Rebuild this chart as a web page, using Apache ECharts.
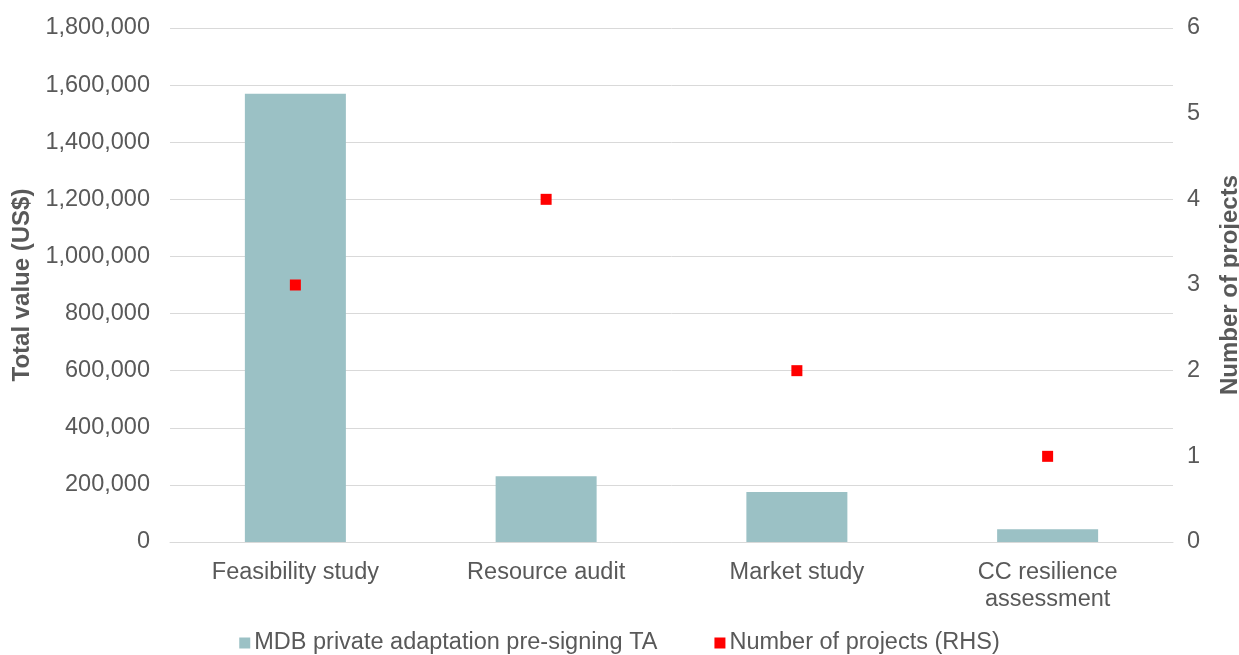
<!DOCTYPE html>
<html><head><meta charset="utf-8">
<script src="https://cdn.jsdelivr.net/npm/echarts@6/dist/echarts.min.js"></script>
<style>html,body{margin:0;padding:0;background:#fff}#c{width:1239px;height:655px}</style>
</head><body><div id="c"></div>
<script>
var categories = ['Feasibility study', 'Resource audit', 'Market study', 'CC resilience\nassessment'];
var taValues = [1570000, 230000, 175000, 45000];
var projectCounts = [3, 4, 2, 1];
var barName = 'MDB private adaptation pre-signing TA';
var scatterName = 'Number of projects (RHS)';

var chart = echarts.init(document.getElementById('c'), null, {renderer: 'canvas'});
var txt = '#595959';
var font = 'Liberation Sans, Arial, sans-serif';
var fs = 23.5;
var nfs = 24;
chart.setOption({
  animation: false,
  textStyle: {fontFamily: font},
  grid: {left: 170, right: 66, top: 28, bottom: 113, outerBoundsMode: 'none', containLabel: false},
  legend: {
    top: 626, left: 'center', itemGap: 57, itemWidth: 11, itemHeight: 11,
    textStyle: {color: txt, fontSize: fs, fontFamily: font, padding: [0, 0, 0, -1]},
    data: [{name: barName, icon: 'rect'}, {name: scatterName, icon: 'rect'}]
  },
  xAxis: {
    type: 'category', data: categories,
    axisLine: {show: true, lineStyle: {color: '#d9d9d9'}},
    axisTick: {show: false},
    axisLabel: {color: txt, fontSize: fs, fontFamily: font, margin: 17, lineHeight: 27, interval: 0}
  },
  yAxis: [{
    type: 'value', min: 0, max: 1800000, interval: 200000,
    name: 'Total value (US$)', nameLocation: 'middle', nameGap: 131, nameRotate: 90,
    nameTextStyle: {color: txt, fontSize: nfs, fontWeight: 'bold', fontFamily: font},
    axisLine: {show: false}, axisTick: {show: false},
    splitLine: {lineStyle: {color: '#d9d9d9', width: 1}},
    axisLabel: {color: txt, fontSize: fs, fontFamily: font, margin: 20,
      formatter: function (v) { return v.toString().replace(/\B(?=(\d{3})+(?!\d))/g, ','); }}
  }, {
    type: 'value', min: 0, max: 6, interval: 1,
    name: 'Number of projects', nameLocation: 'middle', nameGap: 45, nameRotate: 90,
    nameTextStyle: {color: txt, fontSize: nfs, fontWeight: 'bold', fontFamily: font},
    axisLine: {show: false}, axisTick: {show: false}, splitLine: {show: false},
    axisLabel: {color: txt, fontSize: fs, fontFamily: font, margin: 14}
  }],
  series: [{
    name: barName, type: 'bar', data: taValues, barWidth: 101,
    itemStyle: {color: '#9bc1c5'}
  }, {
    name: scatterName, type: 'scatter', yAxisIndex: 1, data: projectCounts,
    symbol: 'rect', symbolSize: 11, itemStyle: {color: '#ff0000', opacity: 1}
  }]
});
</script></body></html>
